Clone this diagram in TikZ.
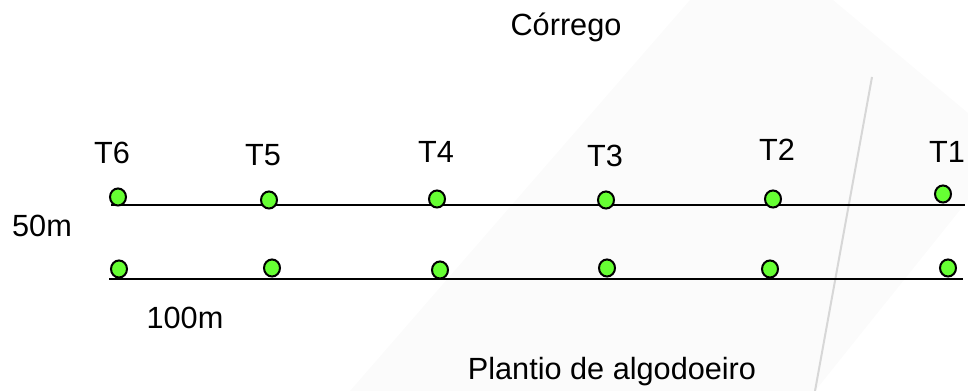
\documentclass[tikz,border=0pt]{standalone}
\usepackage{fontspec}
\setmainfont{Liberation Sans}
\usetikzlibrary{shapes.geometric}

\tikzset{every picture/.style={line width=0.75pt}}
\tikzset{
	label text/.style={anchor=base, inner sep=0pt, font=\fontsize{23}{27}\selectfont},
	ponto/.style={ellipse, draw=black, line width=1.5, fill={rgb, 255:red, 102; green, 255; blue, 51}, inner sep=0pt, minimum width=12, minimum height=12.8},
	linha/.style={draw=black, line width=1.6}}

\begin{document}
\begin{tikzpicture}[x=0.75pt,y=0.75pt,yscale=-1,xscale=1]
	\useasboundingbox (0,0) rectangle (968,391);

	%Shape: Polygon (faint background)
	\fill [black!1.5] (350,391) -- (690,0) -- (833,0) -- (968,113) -- (968,200) -- (815,391) -- cycle ;
	%Straight Lines (faint border)
	\coordinate (bordaA) at (872,77);
	\coordinate (bordaB) at (815,391);
	\draw [color={rgb, 255:red, 215; green, 215; blue, 215}, line width=1.5] (bordaA) -- (bordaB) ;

	%Straight Lines (top row)
	\coordinate (linhaA1) at (111,205);
	\coordinate (linhaA2) at (965,205);
	\draw [linha] (linhaA1) -- (linhaA2) ;
	%Straight Lines (bottom row)
	\coordinate (linhaB1) at (109,279);
	\coordinate (linhaB2) at (963,279);
	\draw [linha] (linhaB1) -- (linhaB2) ;

	%Shape: Circle (top row)
	\node [ponto] (p6a) at (118,197) {};
	\node [ponto] (p5a) at (269,200) {};
	\node [ponto] (p4a) at (437,199) {};
	\node [ponto] (p3a) at (606,200) {};
	\node [ponto] (p2a) at (773,199) {};
	\node [ponto] (p1a) at (943,194) {};
	%Shape: Circle (bottom row)
	\node [ponto] (p6b) at (119,269) {};
	\node [ponto] (p5b) at (272,268) {};
	\node [ponto] (p4b) at (440,270) {};
	\node [ponto] (p3b) at (607,268) {};
	\node [ponto] (p2b) at (770,269) {};
	\node [ponto] (p1b) at (948,268) {};

	% Text Node
	\node [label text] (corrego) at (566,36) {Córrego};
	% Text Node
	\node [label text] (t6) at (112,164) {T6};
	% Text Node
	\node [label text] (t5) at (263,166) {T5};
	% Text Node
	\node [label text] (t4) at (436,163) {T4};
	% Text Node
	\node [label text] (t3) at (605,167) {T3};
	% Text Node
	\node [label text] (t2) at (777,161) {T2};
	% Text Node
	\node [label text] (t1) at (947,163) {T1};
	% Text Node
	\node [label text] (cinquenta) at (42,237) {50m};
	% Text Node
	\node [label text] (cem) at (185,329) {100m};
	% Text Node
	\node [label text] (plantio) at (612,380) {Plantio de algodoeiro};

\end{tikzpicture}
\end{document}
